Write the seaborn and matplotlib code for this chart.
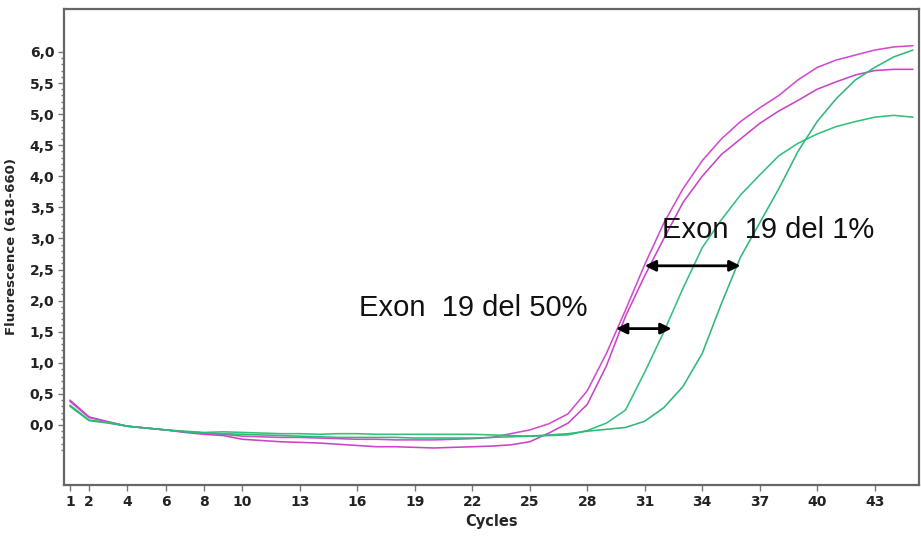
import matplotlib
matplotlib.use("Agg")
import matplotlib.pyplot as plt
import matplotlib.ticker as mticker
import numpy as np
import pandas as pd
import seaborn as sns

cycles = list(range(1, 46))

# magenta curves (earlier Ct)
mag_a = [0.40, 0.13, 0.05, -0.02, -0.05, -0.08, -0.11, -0.13, -0.15, -0.18,
         -0.19, -0.20, -0.20, -0.21, -0.22, -0.23, -0.23, -0.24, -0.24, -0.24,
         -0.23, -0.22, -0.20, -0.14, -0.08, 0.02, 0.18, 0.55, 1.15, 1.85,
         2.58, 3.25, 3.80, 4.25, 4.60, 4.88, 5.10, 5.30, 5.55, 5.75,
         5.87, 5.95, 6.03, 6.08, 6.10]
mag_b = [0.38, 0.12, 0.05, -0.02, -0.05, -0.08, -0.12, -0.15, -0.17, -0.23,
         -0.25, -0.27, -0.28, -0.29, -0.31, -0.33, -0.35, -0.35, -0.36, -0.37,
         -0.36, -0.35, -0.34, -0.32, -0.27, -0.13, 0.03, 0.33, 0.95, 1.75,
         2.40, 3.00, 3.58, 4.00, 4.35, 4.60, 4.85, 5.05, 5.22, 5.40,
         5.52, 5.63, 5.70, 5.72, 5.72]
# green curves
grn_a = [0.32, 0.08, 0.04, -0.02, -0.05, -0.08, -0.10, -0.12, -0.11, -0.12,
         -0.13, -0.14, -0.14, -0.15, -0.14, -0.14, -0.15, -0.15, -0.15, -0.15,
         -0.15, -0.15, -0.16, -0.17, -0.18, -0.17, -0.16, -0.09, 0.03, 0.24,
         0.85, 1.50, 2.20, 2.85, 3.30, 3.70, 4.02, 4.33, 4.53, 4.68,
         4.80, 4.88, 4.95, 4.98, 4.95]
grn_b = [0.30, 0.07, 0.03, -0.02, -0.05, -0.08, -0.11, -0.13, -0.14, -0.15,
         -0.16, -0.17, -0.18, -0.19, -0.20, -0.20, -0.20, -0.20, -0.21, -0.21,
         -0.21, -0.21, -0.20, -0.19, -0.18, -0.16, -0.14, -0.10, -0.07, -0.04,
         0.06, 0.28, 0.62, 1.15, 1.95, 2.70, 3.25, 3.80, 4.40, 4.88,
         5.25, 5.55, 5.75, 5.92, 6.03]

x_ticks = [1, 2, 4, 6, 8, 10, 13, 16, 19, 22, 25, 28, 31, 34, 37, 40, 43]
y_ticks = [0.0, 0.5, 1.0, 1.5, 2.0, 2.5, 3.0, 3.5, 4.0, 4.5, 5.0, 5.5, 6.0]

df = pd.DataFrame({
    "Cycles": cycles * 4,
    "Fluorescence": mag_a + mag_b + grn_a + grn_b,
    "sample": ["m1"] * 45 + ["m2"] * 45 + ["g1"] * 45 + ["g2"] * 45,
})

sns.set_style("white")
fig = plt.figure(figsize=(9.21, 5.40), dpi=100)
ax = fig.add_axes([0.0695, 0.1019, 0.928, 0.8814])

pal = {"m1": "#d04cd0", "m2": "#c845c8", "g1": "#34c07c", "g2": "#2fb877"}
sns.lineplot(data=df, x="Cycles", y="Fluorescence", hue="sample", palette=pal,
             linewidth=1.15, legend=False, ax=ax)

ax.set_xlim(0.69, 45.3)
ax.set_ylim(-0.965, 6.69)
ax.set_xticks(x_ticks)
ax.set_xticklabels([str(t) for t in x_ticks])
ax.set_yticks(y_ticks)
ax.set_yticklabels([("%.1f" % t).replace(".", ",") for t in y_ticks])
ax.yaxis.set_minor_locator(mticker.FixedLocator(np.arange(-0.4, 6.05, 0.1)))
ax.tick_params(axis="both", which="major", length=4, width=1, color="#777777",
               labelsize=10, labelcolor="#222222", pad=3)
ax.tick_params(axis="y", which="minor", length=2, width=1, color="#777777", left=True)
ax.tick_params(axis="x", bottom=True)
ax.tick_params(axis="y", left=True)
for lab in ax.get_xticklabels() + ax.get_yticklabels():
    lab.set_fontweight("bold")

for s in ax.spines.values():
    s.set_color("#666666")
    s.set_linewidth(1.6)

ax.set_xlabel("Cycles", fontsize=10.5, fontweight="bold", labelpad=4)
ax.set_ylabel("Fluorescence (618-660)", fontsize=9.5, fontweight="bold", labelpad=8)

# annotations
ax.annotate("", xy=(29.5, 1.55), xytext=(32.4, 1.55),
            arrowprops=dict(arrowstyle="<|-|>", color="black", lw=2, mutation_scale=16,
                            shrinkA=0, shrinkB=0))
ax.annotate("", xy=(31.0, 2.56), xytext=(36.0, 2.56),
            arrowprops=dict(arrowstyle="<|-|>", color="black", lw=2, mutation_scale=16,
                            shrinkA=0, shrinkB=0))
ax.text(16.1, 1.88, "Exon  19 del 50%", fontsize=21, family="Liberation Sans",
        va="center", ha="left", color="#111111")
ax.text(31.9, 3.13, "Exon  19 del 1%", fontsize=21, family="Liberation Sans",
        va="center", ha="left", color="#111111")

fig.savefig("out.png", dpi=100)
